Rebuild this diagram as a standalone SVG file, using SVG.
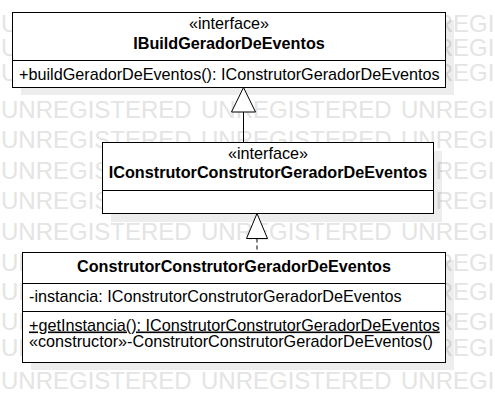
<svg xmlns="http://www.w3.org/2000/svg" xmlns:xlink="http://www.w3.org/1999/xlink" width="495" height="412" viewBox="0 0 495 412">
<style>
.wm { font-family: "Liberation Sans", Arial, sans-serif; font-size: 24px; fill: #e4e4e4; }
.t { font-family: "Liberation Sans", Arial, sans-serif; font-size: 16.2px; fill: #000; }
.b { font-weight: bold; }
.c { text-anchor: middle; }
.u { text-decoration: underline; }
.box { fill: #fff; stroke: #000; stroke-width: 1; }
.sh { fill: #000; fill-opacity: 0.07; stroke: none; }
.dv { stroke: #000; stroke-width: 1; }
.edge { stroke: #000; stroke-width: 1; fill: none; }
.dash { stroke-dasharray: 4 3; }
.head { fill: #fff; stroke: #000; stroke-width: 1; }
</style>
<defs>
<g id="wmrow">
<text class="wm" x="1">UNREGISTERED</text>
<text class="wm" x="201">UNREGISTERED</text>
<text class="wm" x="401">UNREGISTERED</text>
</g>
</defs>
<rect width="495" height="412" fill="#fff"/>
<g id="watermark">
<use xlink:href="#wmrow" y="32"/>
<use xlink:href="#wmrow" y="56"/>
<use xlink:href="#wmrow" y="81"/>
<use xlink:href="#wmrow" y="118"/>
<use xlink:href="#wmrow" y="148"/>
<use xlink:href="#wmrow" y="179"/>
<use xlink:href="#wmrow" y="209"/>
<use xlink:href="#wmrow" y="240"/>
<use xlink:href="#wmrow" y="271"/>
<use xlink:href="#wmrow" y="300"/>
<use xlink:href="#wmrow" y="330"/>
<use xlink:href="#wmrow" y="356"/>
<use xlink:href="#wmrow" y="389"/>
</g>
<g id="IBuildGeradorDeEventos">
<rect class="sh" x="21" y="20" width="433" height="75"/>
<rect class="box" x="12.5" y="12.5" width="433" height="75"/>
<line class="dv" x1="12.5" y1="60.5" x2="445.5" y2="60.5"/>
<text class="t c" x="229" y="29.3">«interface»</text>
<text class="t c b" x="229" y="49.3">IBuildGeradorDeEventos</text>
<text class="t" x="19" y="79.5">+buildGeradorDeEventos(): IConstrutorGeradorDeEventos</text>
</g>
<g id="IConstrutorConstrutorGeradorDeEventos">
<rect class="sh" x="111" y="151" width="331" height="71"/>
<rect class="box" x="102.5" y="142.5" width="331" height="71"/>
<line class="dv" x1="102.5" y1="190.5" x2="433.5" y2="190.5"/>
<text class="t c" x="268" y="159.3">«interface»</text>
<text class="t c b" x="268" y="178.3">IConstrutorConstrutorGeradorDeEventos</text>
</g>
<g id="ConstrutorConstrutorGeradorDeEventos">
<rect class="sh" x="31" y="260" width="423" height="110"/>
<rect class="box" x="22.5" y="252.5" width="423" height="110"/>
<line class="dv" x1="22.5" y1="283.5" x2="445.5" y2="283.5"/>
<line class="dv" x1="22.5" y1="311.5" x2="445.5" y2="311.5"/>
<text class="t c b" x="234" y="272.3">ConstrutorConstrutorGeradorDeEventos</text>
<text class="t" x="29" y="301.5">-instancia: IConstrutorConstrutorGeradorDeEventos</text>
<text class="t u" x="29" y="330.5">+getInstancia(): IConstrutorConstrutorGeradorDeEventos</text>
<text class="t" x="29" y="346.5">«constructor»-ConstrutorConstrutorGeradorDeEventos()</text>
</g>
<g id="connectors">
<path class="edge" d="M243.5 112 V142.5"/>
<polygon class="head" points="243.5,87.5 231.5,112 255.5,112"/>
<path class="edge dash" d="M257 238.5 V252.5"/>
<polygon class="head" points="257,213.5 246.5,238.5 267.5,238.5"/>
</g>
</svg>
